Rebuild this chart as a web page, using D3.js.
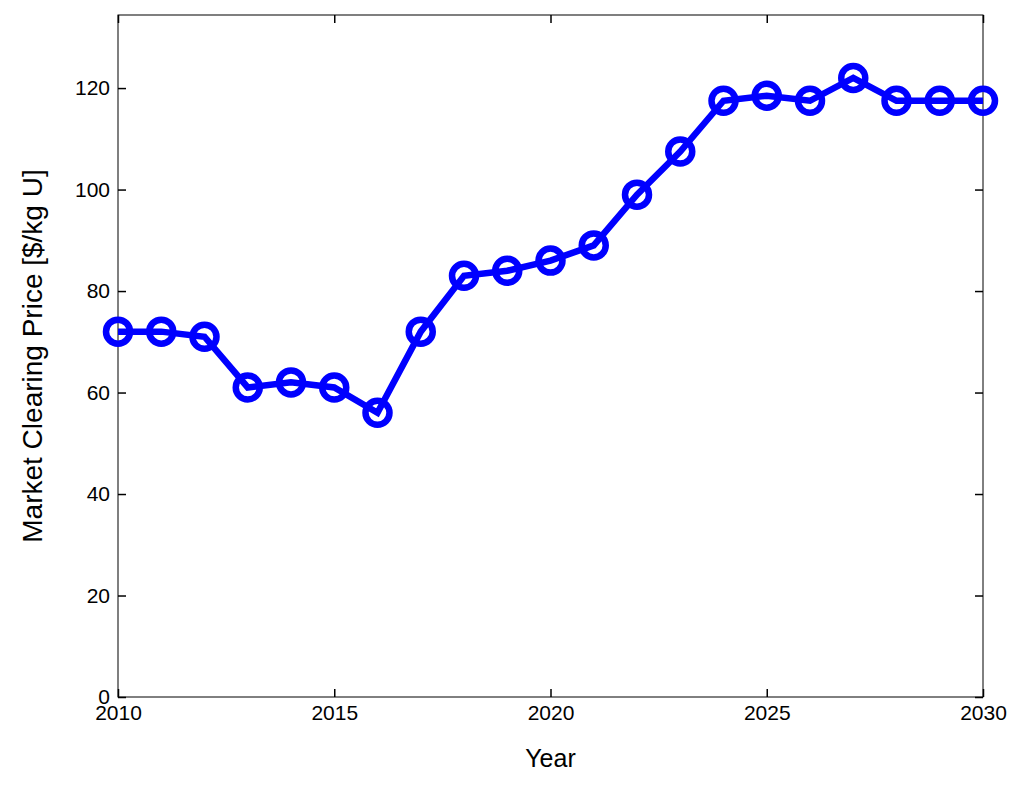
<!DOCTYPE html>
<html>
<head>
<meta charset="utf-8">
<script src="https://cdn.jsdelivr.net/npm/d3@7"></script>
<style>
  body { margin: 0; background: #fff; }
  text { font-family: "Liberation Sans", Arial, sans-serif; }
</style>
</head>
<body>
<svg id="chart" width="1024" height="793"></svg>
<script>
// data
const years = d3.range(2010, 2031);
const prices = [72, 72, 71, 61, 62, 61, 56, 72, 83, 84, 86, 89, 99, 107.5, 117.5, 118.5, 117.5, 122, 117.5, 117.5, 117.5];
const xTicks = [2010, 2015, 2020, 2025, 2030];
const yTicks = [0, 20, 40, 60, 80, 100, 120];

const svg = d3.select('#chart');
const m = { left: 118, right: 983, top: 15, bottom: 697 };

const x = d3.scaleLinear().domain([2010, 2030]).range([m.left, m.right]);
const y = d3.scaleLinear().domain([0, 134.4]).range([m.bottom, m.top]);

// frame
svg.append('rect')
  .attr('x', m.left).attr('y', m.top)
  .attr('width', m.right - m.left).attr('height', m.bottom - m.top)
  .attr('fill', 'none').attr('stroke', '#000').attr('stroke-width', 1);

// axes with inward ticks, mirrored on top/right
const tickLen = 8;
svg.append('g').attr('transform', `translate(0,${m.bottom})`)
  .call(d3.axisBottom(x).tickValues(xTicks).tickFormat(d3.format('d')).tickSizeInner(-tickLen).tickSizeOuter(0).tickPadding(8));
svg.append('g').attr('transform', `translate(0,${m.top})`)
  .call(d3.axisTop(x).tickValues(xTicks).tickFormat('').tickSizeInner(-tickLen).tickSizeOuter(0));
svg.append('g').attr('transform', `translate(${m.left},0)`)
  .call(d3.axisLeft(y).tickValues(yTicks).tickSizeInner(-tickLen).tickSizeOuter(0).tickPadding(8));
svg.append('g').attr('transform', `translate(${m.right},0)`)
  .call(d3.axisRight(y).tickValues(yTicks).tickFormat('').tickSizeInner(-tickLen).tickSizeOuter(0));

svg.selectAll('.domain').remove();
svg.selectAll('.tick line').attr('stroke', '#000').attr('stroke-width', 1.5);
svg.selectAll('.tick text').style('font-size', '21px').attr('fill', '#000')
  .style('font-family', '"Liberation Sans", Arial, sans-serif');

// line
const pts = years.map((yr, i) => [yr, prices[i]]);
svg.append('path')
  .datum(pts)
  .attr('fill', 'none').attr('stroke', '#0000ff').attr('stroke-width', 6.5)
  .attr('d', d3.line().x(d => x(d[0])).y(d => y(d[1])));

svg.selectAll('circle.pt')
  .data(pts).enter().append('circle')
  .attr('class', 'pt')
  .attr('cx', d => x(d[0])).attr('cy', d => y(d[1])).attr('r', 12)
  .attr('fill', 'none').attr('stroke', '#0000ff').attr('stroke-width', 6.5);

// labels
svg.append('text').attr('x', (m.left + m.right) / 2).attr('y', 767)
  .attr('text-anchor', 'middle').attr('font-size', 25).text('Year');
svg.append('text')
  .attr('transform', `translate(42,${(m.top + m.bottom) / 2}) rotate(-90)`)
  .attr('text-anchor', 'middle').attr('font-size', 28).text('Market Clearing Price [$/kg U]');
</script>
</body>
</html>
